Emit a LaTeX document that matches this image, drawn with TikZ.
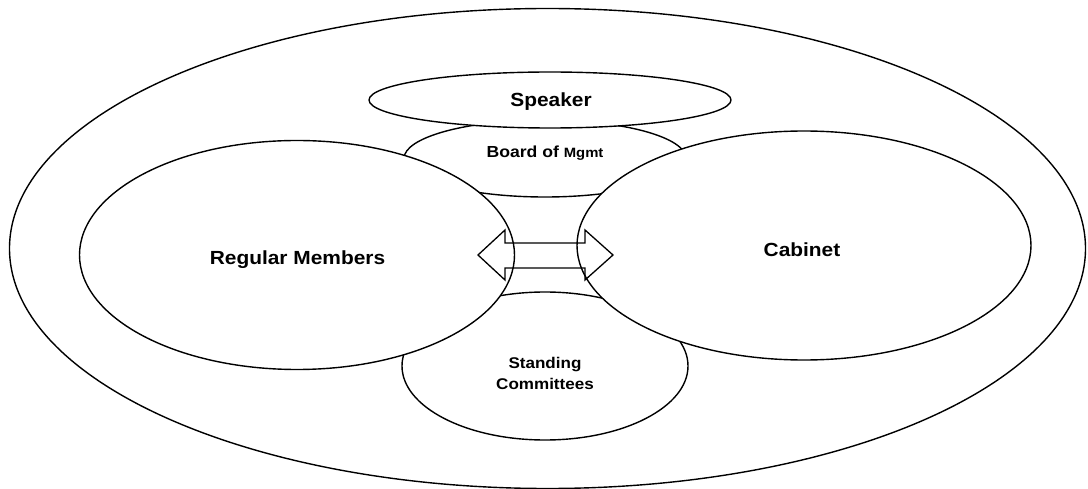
\documentclass[tikz,border=0pt]{standalone}
\usepackage{fontspec}
\setmainfont{Liberation Sans}
\usetikzlibrary{shapes.geometric,calc}
\begin{document}
\begin{tikzpicture}[x=1pt,y=-1pt,
  oval/.style={ellipse, draw=black, fill=white, line width=1.4pt, inner sep=0pt, outer sep=0pt},
  lbl/.style={inner sep=0pt, anchor=base, font=\bfseries},
  big/.style={lbl, font=\bfseries\fontsize{19}{22}\selectfont},
  small/.style={lbl, font=\bfseries\fontsize{15.5}{18}\selectfont}]
\useasboundingbox (0,0) rectangle (1088,489);
% the house as a whole
\node[oval, minimum width=1076pt, minimum height=480pt] (house) at (547.5,248.5) {};
% bodies lying underneath the two large groups
\node[oval, minimum width=282pt, minimum height=77pt] (board) at (545,158.5) {};
\node[oval, minimum width=286pt, minimum height=148pt] (comm) at (545,366) {};
\node[oval, minimum width=362pt, minimum height=56pt] (speaker) at (550,100) {};
% the two large groups
\node[oval, minimum width=435pt, minimum height=229pt] (members) at (297,255) {};
\node[oval, minimum width=454pt, minimum height=229pt] (cabinet) at (804,245.5) {};
% two-way arrow between members and cabinet
\coordinate (mid) at (545.5,255);
\draw[line width=1.3pt, line join=miter]
  ($(mid)+(-67.5,0)$) -- ++(27,-25) -- ++(0,13) -- ++(80,0) -- ++(0,-13)
  -- ++(28,25) -- ++(-28,25) -- ++(0,-12) -- ++(-80,0) -- ++(0,12) -- cycle;
% labels
\node[big] (tSpeaker) at (551,106.5) {\scalebox{1.1}[1]{Speaker}};
\node[lbl] (tBoard) at (545,158) {\scalebox{1.1}[1]{\fontsize{16}{18}\selectfont Board of \fontsize{13.5}{16}\selectfont Mgmt}};
\node[big] (tMembers) at (297.5,265) {\scalebox{1.1}[1]{Regular Members}};
\node[big] (tCabinet) at (802,257) {\scalebox{1.1}[1]{Cabinet}};
\node[small] (tStanding) at (545,368) {\scalebox{1.1}[1]{Standing}};
\node[small] (tCommittees) at (545,389) {\scalebox{1.1}[1]{Committees}};
\end{tikzpicture}
\end{document}
